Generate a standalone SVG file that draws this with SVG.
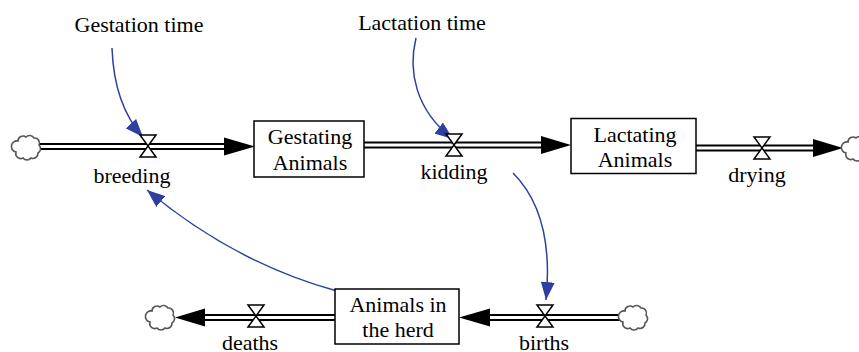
<svg xmlns="http://www.w3.org/2000/svg" xmlns:xlink="http://www.w3.org/1999/xlink" width="859" height="352" viewBox="0 0 859 352">
<style>
.lbl{font-family:'Liberation Serif','DejaVu Serif','Times New Roman',serif;font-size:22px;fill:#000;text-anchor:middle}
.stock{fill:#fff;stroke:#000;stroke-width:1.5}
.pipeo{fill:none;stroke:#000;stroke-width:7}
.pipei{fill:none;stroke:#fff;stroke-width:3}
.head{fill:#000}
.valve{fill:#fff;stroke:#000;stroke-width:1.5;stroke-linejoin:miter}
.cloud{fill:#fff;stroke:#555;stroke-width:1.6}
.link{fill:none;stroke:#2f3fa0;stroke-width:1.5}
</style>
<defs>
<path id="valveShape" d="M-8,-11 H8 L-8,11 H8 Z"/>
<path id="cloudShape" d="M-9,-6 a5,5 0 0 1 8,-4 a5,5 0 0 1 8,1 a5,5 0 0 1 5,7 a5,5 0 0 1 -1,8 a5,5 0 0 1 -7,5 a5,5 0 0 1 -8,0 a5,5 0 0 1 -7,-6 a5,5 0 0 1 2,-11 z"/>
<marker id="arr" markerUnits="userSpaceOnUse" markerWidth="18" markerHeight="14" refX="18" refY="7" orient="auto">
<path d="M0,0 L18,7 L0,14 Z" fill="#2f3fa0"/>
</marker>
</defs>
<g id="connectors">
<g id="pipes">
<path class="pipeo" d="M38,146.5 H226"/><path class="pipei" d="M38,146.5 H226"/>
<polygon class="head" points="224,137.5 255,146.5 224,155.5"/>
<path class="pipeo" d="M364,145 H543"/><path class="pipei" d="M364,145 H543"/>
<polygon class="head" points="541,136 571,145 541,154"/>
<path class="pipeo" d="M696,148 H815"/><path class="pipei" d="M696,148 H815"/>
<polygon class="head" points="813,139 843,148 813,157"/>
<path class="pipeo" d="M335,317.5 H203"/><path class="pipei" d="M335,317.5 H203"/>
<polygon class="head" points="205,308.5 175,317.5 205,326.5"/>
<path class="pipeo" d="M622,317.5 H488"/><path class="pipei" d="M622,317.5 H488"/>
<polygon class="head" points="490,308.5 459,317.5 490,326.5"/>
</g>
<path class="link" d="M112,48 Q114,105 143,137" marker-end="url(#arr)"/>
<path class="link" d="M416,38 C408,70 415,110 453,139" marker-end="url(#arr)"/>
<path class="link" d="M513,173 C540,200 552,240 546,300" marker-end="url(#arr)"/>
<path class="link" d="M337,291 C260,270 195,230 147,190" marker-end="url(#arr)"/>
</g>
<g id="cloud1"><use xlink:href="#cloudShape" class="cloud" transform="translate(27,147)"/></g>
<g id="cloud2"><use xlink:href="#cloudShape" class="cloud" transform="translate(857,148)"/></g>
<g id="cloud3"><use xlink:href="#cloudShape" class="cloud" transform="translate(161,317)"/></g>
<g id="cloud4"><use xlink:href="#cloudShape" class="cloud" transform="translate(634,317)"/></g>
<g id="gestating">
<rect class="stock" x="254" y="121" width="110" height="56"/>
<text class="lbl" font-family="Liberation Serif, serif" x="310" y="144">Gestating</text><text class="lbl" font-family="Liberation Serif, serif" x="310" y="170">Animals</text>
</g>
<g id="lactating">
<rect class="stock" x="571" y="118.5" width="125" height="55"/>
<text class="lbl" font-family="Liberation Serif, serif" x="635" y="141.5">Lactating</text><text class="lbl" font-family="Liberation Serif, serif" x="635" y="166.5">Animals</text>
</g>
<g id="herd">
<rect class="stock" x="335" y="289" width="124" height="55"/>
<text class="lbl" font-family="Liberation Serif, serif" x="398" y="311.5">Animals in</text><text class="lbl" font-family="Liberation Serif, serif" x="398" y="336.5">the herd</text>
</g>
<g id="breeding"><use xlink:href="#valveShape" class="valve" transform="translate(148,146)"/><text class="lbl" font-family="Liberation Serif, serif" x="132" y="183">breeding</text></g>
<g id="kidding"><use xlink:href="#valveShape" class="valve" transform="translate(454,145)"/><text class="lbl" font-family="Liberation Serif, serif" x="454" y="179">kidding</text></g>
<g id="drying"><use xlink:href="#valveShape" class="valve" transform="translate(762,148)"/><text class="lbl" font-family="Liberation Serif, serif" x="757" y="182">drying</text></g>
<g id="deaths"><use xlink:href="#valveShape" class="valve" transform="translate(256,316)"/><text class="lbl" font-family="Liberation Serif, serif" x="250" y="350">deaths</text></g>
<g id="births"><use xlink:href="#valveShape" class="valve" transform="translate(545,316)"/><text class="lbl" font-family="Liberation Serif, serif" x="544" y="350">births</text></g>
<g id="gestation_time"><text class="lbl" font-family="Liberation Serif, serif" x="139" y="32">Gestation time</text></g>
<g id="lactation_time"><text class="lbl" font-family="Liberation Serif, serif" x="422" y="30">Lactation time</text></g>
</svg>
